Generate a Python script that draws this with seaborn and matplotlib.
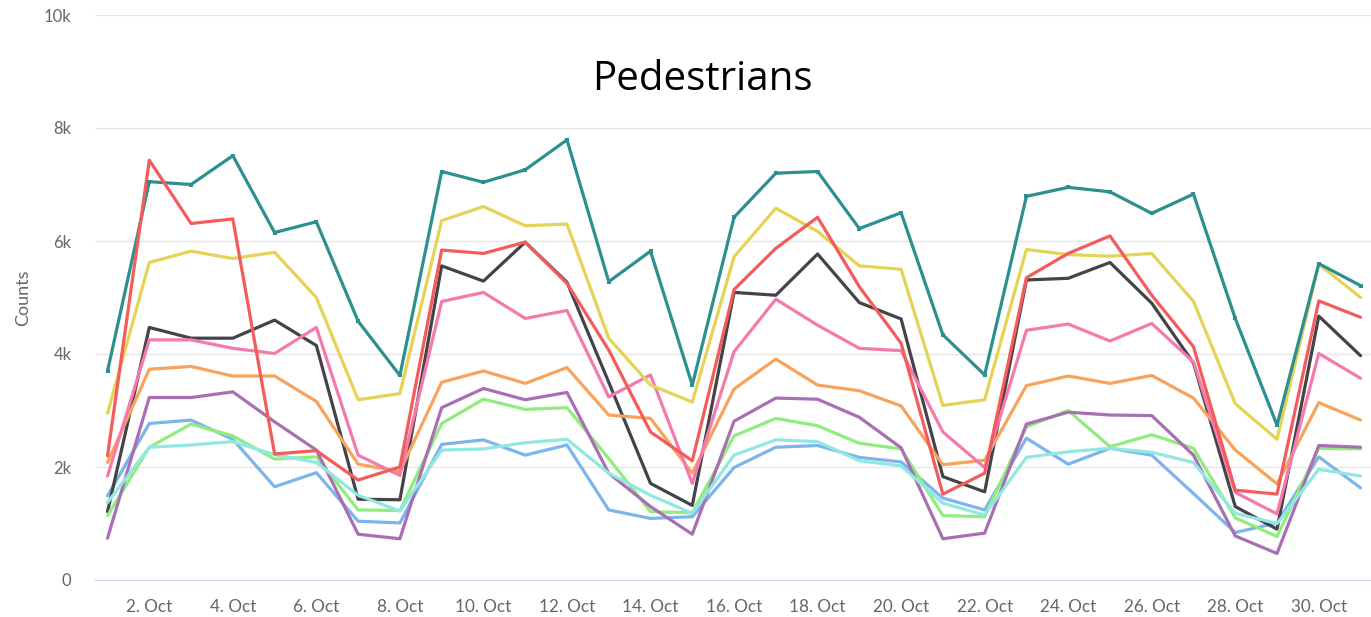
import pandas as pd
import matplotlib
matplotlib.use("Agg")
import matplotlib.pyplot as plt
import seaborn as sns

# Daily pedestrian counts, 1-31 Oct (one list per counting site)
days = list(range(1, 32))

teal = [3700, 7050, 7000, 7510, 6150, 6340, 4580, 3620, 7230, 7040, 7260, 7790, 5280, 5820, 3450, 6420,
        7200, 7230, 6220, 6500, 4340, 3630, 6790, 6950, 6870, 6490, 6830, 4630, 2740, 5600, 5210]
yellow = [2950, 5620, 5820, 5690, 5800, 5000, 3190, 3300, 6360, 6610, 6270, 6300, 4280, 3450, 3150, 5720,
          6580, 6170, 5560, 5500, 3090, 3190, 5850, 5760, 5730, 5780, 4930, 3120, 2490, 5590, 5000]
red = [2200, 7430, 6310, 6390, 2230, 2290, 1770, 2000, 5840, 5780, 5980, 5250, 4070, 2620, 2110, 5140,
       5870, 6420, 5190, 4190, 1520, 1890, 5350, 5780, 6090, 5040, 4130, 1590, 1520, 4940, 4650]
black = [1210, 4470, 4280, 4280, 4600, 4150, 1430, 1420, 5560, 5290, 5980, 5270, 3500, 1710, 1320, 5090,
         5040, 5770, 4910, 4620, 1830, 1560, 5310, 5340, 5620, 4900, 3840, 1300, 900, 4670, 3970]
pink = [1840, 4250, 4250, 4100, 4010, 4470, 2210, 1850, 4930, 5090, 4630, 4770, 3240, 3630, 1710, 4040,
        4970, 4510, 4100, 4060, 2620, 1990, 4420, 4530, 4230, 4540, 3860, 1550, 1170, 4010, 3570]
orange = [2080, 3730, 3780, 3610, 3610, 3160, 2050, 1920, 3500, 3700, 3480, 3760, 2920, 2860, 1890, 3380,
          3910, 3450, 3350, 3080, 2040, 2120, 3440, 3610, 3480, 3620, 3220, 2300, 1700, 3140, 2830]
purple = [740, 3230, 3230, 3330, 2800, 2300, 810, 730, 3050, 3390, 3190, 3320, 1890, 1300, 810, 2810,
          3220, 3200, 2880, 2340, 730, 830, 2760, 2970, 2920, 2910, 2210, 780, 470, 2380, 2350]
green = [1140, 2350, 2760, 2550, 2140, 2180, 1240, 1230, 2770, 3200, 3020, 3050, 2150, 1210, 1190, 2550,
         2860, 2730, 2420, 2320, 1140, 1120, 2710, 3000, 2360, 2570, 2330, 1100, 770, 2330, 2320]
blue = [1490, 2770, 2830, 2490, 1650, 1900, 1040, 1010, 2400, 2480, 2210, 2390, 1240, 1090, 1120, 1990,
        2350, 2380, 2170, 2090, 1450, 1240, 2510, 2050, 2330, 2210, 1530, 840, 1010, 2180, 1630]
cyan = [1370, 2350, 2390, 2450, 2220, 2080, 1500, 1220, 2300, 2320, 2430, 2490, 1890, 1500, 1180, 2210,
        2480, 2450, 2110, 2020, 1360, 1150, 2170, 2270, 2330, 2260, 2080, 1180, 1000, 1960, 1840]

series = {"blue": blue, "black": black, "green": green, "orange": orange, "purple": purple,
          "cyan": cyan, "pink": pink, "yellow": yellow, "teal": teal, "red": red}
colors = {"blue": "#7cb5ec", "black": "#434348", "green": "#90ed7d", "orange": "#f7a35c",
          "purple": "#a870b2", "cyan": "#91e8e1", "pink": "#f47aae", "yellow": "#e4d354",
          "teal": "#2b908f", "red": "#f45b5b"}

df = pd.concat([pd.DataFrame({"day": days, "count": v, "site": k}) for k, v in series.items()])

sns.set_style("white")
plt.rcParams['font.family'] = ['Lato', 'DejaVu Sans']

fig = plt.figure(figsize=(13.71, 6.17), dpi=100)
ax = fig.add_axes([95 / 1371, 1 - 580 / 617, 1 - 95 / 1371, 565 / 617])

sns.lineplot(data=df, x="day", y="count", hue="site", palette=colors,
             linewidth=2.3, legend=False, ax=ax)
sns.scatterplot(data=df[df["site"] == "teal"], x="day", y="count", color=colors["teal"],
                s=10, marker="s", linewidth=0, legend=False, ax=ax, zorder=5)

ax.set_xlim(0.7, 31.25)
ax.set_ylim(0, 10000)
ax.set_yticks([0, 2000, 4000, 6000, 8000, 10000])
ax.set_yticklabels(["0", "2k", "4k", "6k", "8k", "10k"])
even = list(range(2, 32, 2))
ax.set_xticks(even)
ax.set_xticklabels([f"{d}. Oct" for d in even])
ax.grid(axis="y", color="#e6e6e6", linewidth=1)
ax.set_axisbelow(True)
for s in ["top", "right", "left"]:
    ax.spines[s].set_visible(False)
ax.spines["bottom"].set_color("#ccd6eb")
ax.tick_params(axis="x", colors="#ccd6eb", length=8, width=1, labelcolor="#666666",
               labelsize=12.3, pad=6)
ax.tick_params(axis="y", length=0, labelcolor="#666666", labelsize=12, pad=17)
ax.set_xlabel("")
ax.set_ylabel("Counts", color="#666666", fontsize=13, labelpad=9)

fig.text(702 / 1371, 1 - 80 / 617, "Pedestrians", ha="center", va="center",
         fontsize=29, color="black", family=["Open Sans", "DejaVu Sans"])

fig.savefig("out.png", dpi=100)
